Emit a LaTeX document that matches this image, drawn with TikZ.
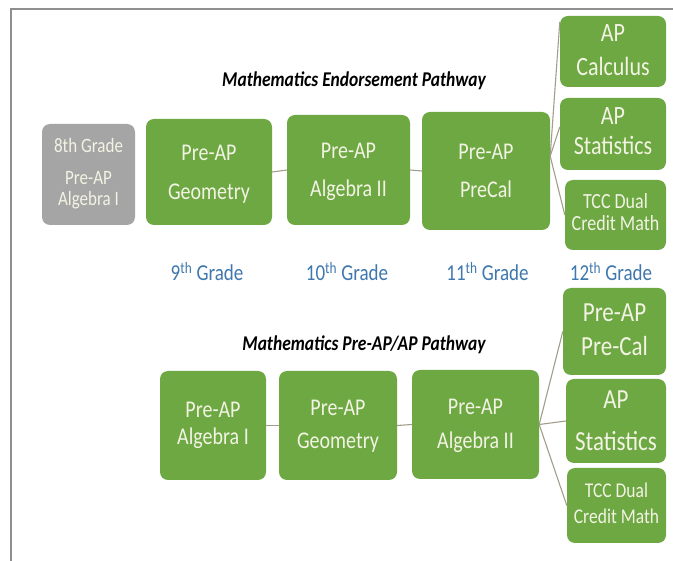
\documentclass[tikz,border=0pt]{standalone}
\usepackage{fontspec}
\setmainfont{Carlito}
\usepackage{graphicx}
\usetikzlibrary{calc}
\definecolor{boxgreen}{HTML}{6DA843}
\definecolor{boxgray}{HTML}{A5A5A5}
\definecolor{boxtext}{HTML}{F3F3E4}
\definecolor{gradeblue}{HTML}{3F78AE}
\definecolor{linkc}{HTML}{A39E8A}
\definecolor{framec}{HTML}{8F8F8F}
\newcommand{\bx}[3]{\scalebox{1}[1.2]{\fontsize{#1}{#2}\selectfont\begin{tabular}{@{}c@{}}#3\end{tabular}}}
\newcommand{\gr}[1]{\scalebox{1}[1.2]{\fontsize{19}{22}\selectfont #1\textsuperscript{th} Grade}}
\newcommand{\ttl}[1]{\scalebox{1}[1.2]{\fontsize{17.5}{20}\selectfont\bfseries\itshape #1}}
\begin{document}
\begin{tikzpicture}[x=1pt,y=-1pt,
  gbox/.style={fill=boxgreen, text=boxtext, rounded corners=8pt, inner sep=0pt, align=center},
  graybox/.style={fill=boxgray, text=boxtext, rounded corners=8pt, inner sep=0pt, align=center},
  link/.style={draw=linkc, line width=1.1pt},
  grade/.style={text=gradeblue, inner sep=0pt},
  title/.style={text=black, inner sep=0pt}]
\useasboundingbox (0,0) rectangle (673,561);
\fill[white] (0,0) rectangle (673,561);
\draw[framec, line width=1.8pt] (673,9) -- (11,9) -- (11,561);

% titles
\node[title] (t1) at (354,81) {\ttl{Mathematics Endorsement Pathway}};
\node[title] (t2) at (364,345) {\ttl{Mathematics Pre-AP/AP Pathway}};

% top row
\node[graybox, minimum width=93pt, minimum height=101pt] (g8) at (88.5,174.5)
  {\bx{17}{17.5}{8th Grade\\[9pt] Pre-AP\\ Algebra I}};
\node[gbox, minimum width=126pt, minimum height=106pt] (geo1) at (209,172)
  {\bx{20}{32.5}{Pre-AP\\ Geometry}};
\node[gbox, minimum width=123pt, minimum height=110pt] (alg2a) at (348.5,170)
  {\bx{20}{31}{Pre-AP\\ Algebra II}};
\node[gbox, minimum width=128pt, minimum height=118pt] (precal) at (486,171)
  {\bx{20}{31}{Pre-AP\\ PreCal}};
\node[gbox, minimum width=106pt, minimum height=71pt] (calc) at (613,51.5)
  {\bx{22}{29}{AP\\ Calculus}};
\node[gbox, minimum width=106pt, minimum height=72pt] (stat1) at (613,134)
  {\bx{22}{25}{AP\\ Statistics}};
\node[gbox, minimum width=101pt, minimum height=70pt] (tcc1) at (615.5,215)
  {\bx{18}{19}{TCC Dual\\ Credit Math}};

% grades
\node[grade] (gr9) at (207,271.5) {\gr{9}};
\node[grade] (gr10) at (347,271.5) {\gr{10}};
\node[grade] (gr11) at (487.5,271.5) {\gr{11}};
\node[grade] (gr12) at (611,271.5) {\gr{12}};

% bottom row
\node[gbox, minimum width=106pt, minimum height=109pt] (alg1) at (213,425.5)
  {\bx{20}{22.5}{Pre-AP\\ Algebra I}};
\node[gbox, minimum width=118pt, minimum height=109pt] (geo2) at (338,425.5)
  {\bx{20}{27.5}{Pre-AP\\ Geometry}};
\node[gbox, minimum width=127pt, minimum height=109pt] (alg2b) at (475.5,424.5)
  {\bx{20}{29}{Pre-AP\\ Algebra II}};
\node[gbox, minimum width=103pt, minimum height=87pt] (precal2) at (614.5,331.5)
  {\bx{23}{29}{Pre-AP\\ Pre-Cal}};
\node[gbox, minimum width=100pt, minimum height=78pt] (stat2) at (616,421)
  {\bx{23}{35}{AP\\ Statistics}};
\node[gbox, minimum width=99pt, minimum height=75pt] (tcc2) at (616.5,505.5)
  {\bx{17.5}{21}{TCC Dual\\ Credit Math}};

% connectors top
\draw[link] (geo1.east) -- (alg2a.west);
\draw[link] (alg2a.east) -- (precal.west);
\coordinate (pf) at ($(precal.east)+(0,-15)$);
\draw[link] (pf) -- ($(calc.north west)+(0,6)$);
\draw[link] (pf) -- ($(stat1.west)+(0,-7)$);
\draw[link] (pf) -- (tcc1.west);

% connectors bottom
\draw[link] (alg1.east) -- (geo2.west);
\draw[link] (geo2.east) -- (alg2b.west);
\draw[link] (alg2b.east) -- (precal2.west);
\draw[link] (alg2b.east) -- (stat2.west);
\draw[link] (alg2b.east) -- (tcc2.west);
\end{tikzpicture}
\end{document}
